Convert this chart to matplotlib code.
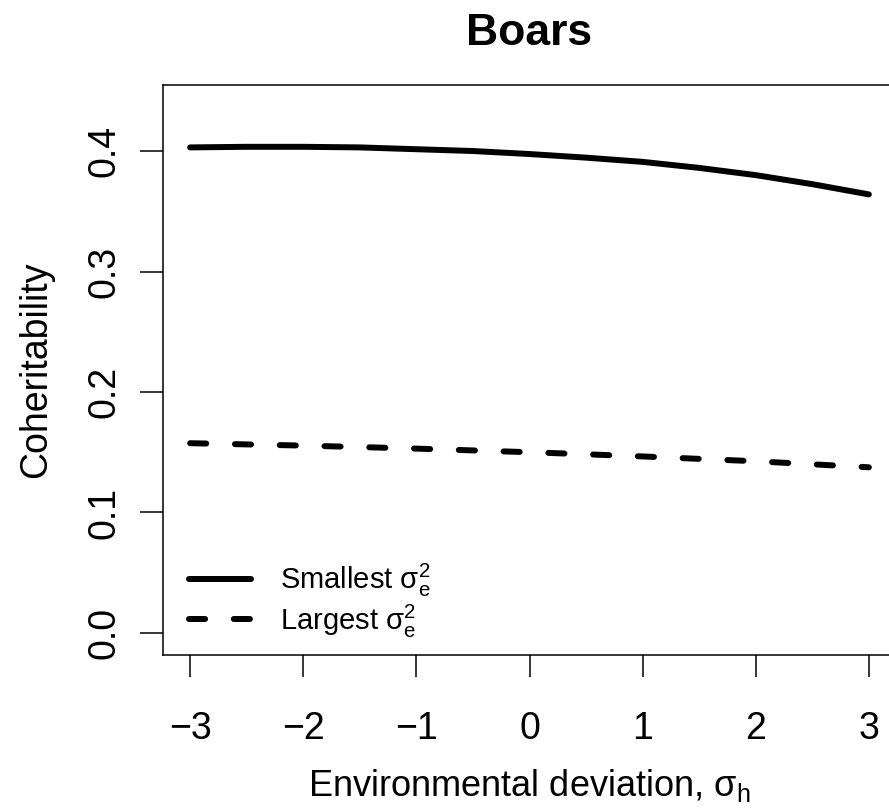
import matplotlib
matplotlib.use("Agg")
import matplotlib.pyplot as plt

plt.rcParams['font.family'] = ['Liberation Sans', 'DejaVu Sans']
plt.rcParams['mathtext.fontset'] = 'custom'
plt.rcParams['mathtext.rm'] = 'Liberation Sans'
plt.rcParams['mathtext.it'] = 'Liberation Sans:italic'

# data
sigma_h = [-3, -2.5, -2, -1.5, -1, -0.5, 0, 0.5, 1, 1.5, 2, 2.5, 3]
smallest = [0.403, 0.4035, 0.4035, 0.403, 0.4015, 0.400, 0.3975, 0.3945, 0.391, 0.386, 0.380, 0.3725, 0.364]
largest = [0.1575, 0.1565, 0.1555, 0.1543, 0.1530, 0.1515, 0.1500, 0.1483, 0.1465, 0.1445, 0.1425, 0.1400, 0.1375]
xticks = [-3, -2, -1, 0, 1, 2, 3]
yticks = [0.0, 0.1, 0.2, 0.3, 0.4]

fig = plt.figure(figsize=(8.89, 8.08), dpi=100)
ax = fig.add_axes([163/889, 153/808, (896-163)/889, (655-85)/808])

ax.plot(sigma_h, smallest, color='black', lw=4.3, solid_capstyle='round',
        label=r'Smallest $\mathrm{\sigma}_\mathrm{e}^\mathrm{2}$')
ax.plot(sigma_h, largest, color='black', lw=4.3, dashes=(2.7, 4.8), dash_capstyle='round',
        label=r'Largest $\mathrm{\sigma}_\mathrm{e}^\mathrm{2}$')

ax.set_xlim(-3.24, 3.24)
ax.set_ylim(-0.0183, 0.4548)
ax.set_xticks(xticks)
ax.set_xticklabels([str(t).replace('-', '\u2212') for t in xticks])
ax.set_yticks(yticks)
ax.set_yticklabels(['%.1f' % t for t in yticks], rotation=90, va='center')
ax.tick_params(axis='x', length=16, width=1.1, pad=24, labelsize=27)
ax.tick_params(axis='y', length=16.5, width=1.1, pad=13, labelsize=27)
for s in ax.spines.values():
    s.set_linewidth(1.1)

ax.set_title('Boars', fontsize=32, fontweight='bold', pad=29)
ax.set_xlabel(r'Environmental deviation, $\mathrm{\sigma}_\mathrm{h}$', fontsize=26, labelpad=15)
ax.set_ylabel('Coheritability', fontsize=27, labelpad=23)

ax.legend(loc='lower left', bbox_to_anchor=(0.0, -0.019), frameon=False, fontsize=21,
          handlelength=2.1, handletextpad=1.0, labelspacing=0.1)

fig.savefig('out.png', dpi=100)
